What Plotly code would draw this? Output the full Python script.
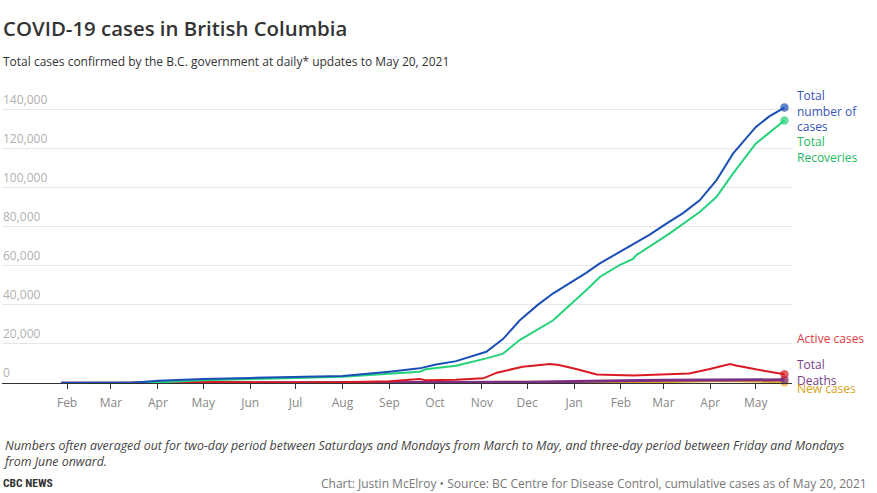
import plotly.graph_objects as go

# ---- data ----
total_dates = ["2020-01-28", "2020-03-01", "2020-03-15", "2020-04-01", "2020-05-01", "2020-06-01",
               "2020-07-01", "2020-08-01", "2020-09-01", "2020-09-21", "2020-10-01", "2020-10-15",
               "2020-11-04", "2020-11-15", "2020-11-26", "2020-12-08", "2020-12-18", "2021-01-01",
               "2021-01-09", "2021-01-18", "2021-01-31", "2021-02-09", "2021-02-20", "2021-03-03",
               "2021-03-14", "2021-03-25", "2021-04-05", "2021-04-16", "2021-05-01", "2021-05-10",
               "2021-05-20"]
total_cases = [1, 8, 100, 1100, 2100, 2600, 2950, 3600, 5800, 7500, 9300, 11200,
               16000, 22500, 32000, 40000, 45800, 52500, 56400, 61200, 67100, 71000, 76000, 81600,
               87000, 93500, 103700, 117400, 131000, 136500, 141000]

rec_dates = ["2020-01-28", "2020-03-15", "2020-04-01", "2020-05-01", "2020-06-01", "2020-07-01",
             "2020-08-01", "2020-09-01", "2020-09-21", "2020-09-25", "2020-10-15", "2020-11-04",
             "2020-11-15", "2020-11-26", "2020-12-18", "2021-01-09", "2021-01-18", "2021-01-31",
             "2021-02-09", "2021-02-11", "2021-03-05", "2021-03-25", "2021-04-05", "2021-04-16",
             "2021-05-01", "2021-05-20"]
recoveries = [0, 0, 300, 1400, 2200, 2600, 3200, 4800, 5800, 7000, 8800, 12600,
              15000, 22000, 32000, 47500, 54300, 60300, 63500, 65400, 76500, 87500, 95200, 107200,
              122500, 134400]

active_dates = ["2020-01-28", "2020-03-15", "2020-04-01", "2020-05-01", "2020-06-01", "2020-07-01",
                "2020-08-01", "2020-09-01", "2020-09-21", "2020-09-25", "2020-10-15", "2020-11-02",
                "2020-11-11", "2020-11-28", "2020-12-16", "2020-12-22", "2021-01-03", "2021-01-16",
                "2021-02-09", "2021-03-01", "2021-03-18", "2021-03-31", "2021-04-14", "2021-04-18",
                "2021-05-01", "2021-05-20"]
active_cases = [1, 90, 700, 500, 250, 200, 350, 900, 2000, 1400, 1700, 2400,
                5300, 8300, 9700, 9200, 7000, 4400, 3900, 4600, 4900, 7000, 9700, 9000,
                7000, 4500]

death_dates = ["2020-01-28", "2020-03-15", "2020-04-01", "2020-05-01", "2020-07-01", "2020-10-01",
               "2020-12-01", "2021-01-01", "2021-02-01", "2021-03-01", "2021-04-01", "2021-05-01",
               "2021-05-20"]
deaths = [0, 2, 30, 120, 180, 250, 420, 900, 1200, 1360, 1470, 1580, 1650]

new_dates = ["2020-01-28", "2020-04-01", "2020-07-01", "2020-09-01", "2020-11-15", "2020-12-15",
             "2021-01-15", "2021-03-01", "2021-04-10", "2021-05-01", "2021-05-20"]
new_cases = [0, 40, 20, 100, 600, 550, 500, 450, 1000, 700, 400]

month_ticks = ["2020-02-01", "2020-03-01", "2020-04-01", "2020-05-01", "2020-06-01", "2020-07-01",
               "2020-08-01", "2020-09-01", "2020-10-01", "2020-11-01", "2020-12-01", "2021-01-01",
               "2021-02-01", "2021-03-01", "2021-04-01", "2021-05-01"]
month_labels = ["Feb", "Mar", "Apr", "May", "Jun", "Jul", "Aug", "Sep", "Oct", "Nov", "Dec", "Jan",
                "Feb", "Mar", "Apr", "May"]
y_ticks = [0, 20000, 40000, 60000, 80000, 100000, 120000, 140000]
y_labels = ["0", "20,000", "40,000", "60,000", "80,000", "100,000", "120,000", "140,000"]

FONT = "Open Sans"

fig = go.Figure()

def add_series(dates, vals, color, width):
    n = len(vals)
    fig.add_trace(go.Scatter(
        x=dates, y=vals, mode="lines+markers",
        line=dict(color=color, width=width, shape="linear"),
        marker=dict(size=[0] * (n - 1) + [8.5], color=color, line=dict(width=0)),
        hoverinfo="skip", showlegend=False, cliponaxis=False))

add_series(new_dates, new_cases, "#e0a526", 2)
add_series(death_dates, deaths, "#7b2e83", 3)
add_series(active_dates, active_cases, "#d91a22", 2)
add_series(rec_dates, recoveries, "#25d27a", 2)
add_series(total_dates, total_cases, "#1b4fb8", 2)

# y tick labels sitting above their gridlines
for v, t in zip(y_ticks, y_labels):
    fig.add_annotation(x=0, xref="paper", y=v, yref="y", text=t, showarrow=False,
                       xanchor="left", yanchor="bottom", yshift=0, xshift=-1,
                       font=dict(family=FONT, size=12, color="#b0b0b0"))

labels = [
    ("Total<br>number of<br>cases", 139500, "#3453b8"),
    ("Total<br>Recoveries", 119500, "#22b861"),
    ("Active cases", 23000, "#e23a3f"),
    ("Total<br>Deaths", 5600, "#7a3f88"),
]
for txt, yv, col in labels:
    fig.add_annotation(x=1.004, xref="paper", y=yv, yref="y", text=txt, showarrow=False,
                       xanchor="left", yanchor="middle", align="left",
                       font=dict(family=FONT, size=12, color=col))
fig.add_annotation(x=1.004, xref="paper", y=0, yref="paper", yshift=-5, text="New cases",
                   showarrow=False, xanchor="left", yanchor="middle", align="left",
                   font=dict(family=FONT, size=12, color="#d9a320"))

fig.add_annotation(x=0, xref="paper", y=1, yref="paper", yshift=62, text="COVID-19 cases in British Columbia",
                   showarrow=False, xanchor="left", yanchor="middle", xshift=-1,
                   font=dict(family=FONT, size=20.4, color="#333333", weight=600))
fig.add_annotation(x=0, xref="paper", y=1, yref="paper", yshift=29,
                   text="Total cases confirmed by the B.C. government at daily* updates to May 20, 2021",
                   showarrow=False, xanchor="left", yanchor="middle", xshift=-1,
                   font=dict(family=FONT, size=12, color="#333333"))
fig.add_annotation(x=0, xref="paper", y=0, yref="paper", yshift=-70, xshift=-1,
                   text="<i>Numbers often averaged out for two-day period between Saturdays and Mondays from March to May, and three-day period between Friday and Mondays<br>from June onward.</i>",
                   showarrow=False, xanchor="left", yanchor="middle", align="left",
                   font=dict(family=FONT, size=12.4, color="#444444"))
fig.add_annotation(x=0, xref="paper", y=0, yref="paper", yshift=-100, xshift=-1, text="<b>CBC NEWS</b>",
                   showarrow=False, xanchor="left", yanchor="middle",
                   font=dict(family="Roboto Condensed, Liberation Sans Narrow, " + FONT, size=11.5, color="#333333"))
fig.add_annotation(x=1, xref="paper", xshift=77, y=0, yref="paper", yshift=-100,
                   text="Chart: Justin McElroy • Source: BC Centre for Disease Control, cumulative cases as of May 20, 2021",
                   showarrow=False, xanchor="right", yanchor="middle",
                   font=dict(family=FONT, size=12, color="#777777"))

fig.update_layout(
    width=877, height=493,
    margin=dict(l=2, r=85, t=90, b=110),
    paper_bgcolor="white", plot_bgcolor="white",
    font=dict(family=FONT),
    hovermode=False,
    xaxis=dict(range=["2019-12-20", "2021-05-25"], tickvals=month_ticks, ticktext=month_labels,
               showgrid=False, showline=True, linecolor="#333333", linewidth=1,
               ticks="outside", ticklen=5, tickcolor="#333333", ticklabelstandoff=4,
               tickfont=dict(family=FONT, size=12, color="#888888"), zeroline=False, fixedrange=True),
    yaxis=dict(range=[0, 150000], tickvals=y_ticks, showticklabels=False,
               showgrid=True, gridcolor="#e6e6e6", gridwidth=1, zeroline=False,
               ticks="", showline=False, fixedrange=True),
)

fig.write_html("out.html", config={"displayModeBar": False},
               post_script="document.body.style.margin='0px';document.body.style.overflow='hidden';")
